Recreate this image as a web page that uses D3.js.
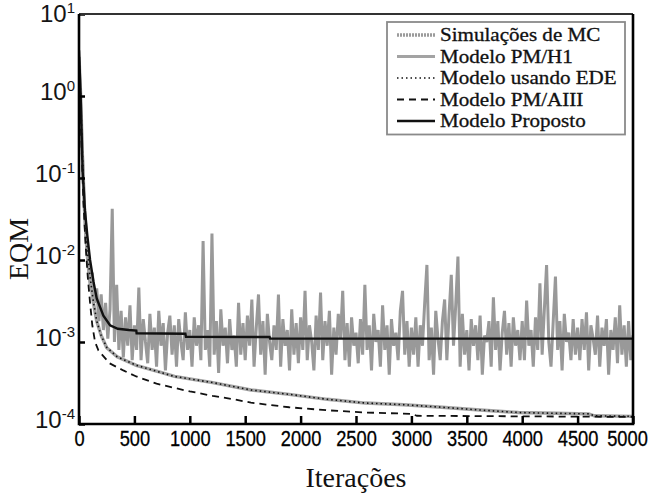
<!DOCTYPE html>
<html>
<head>
<meta charset="utf-8">
<script src="https://cdn.jsdelivr.net/npm/d3@7"></script>
<style>
  body { margin: 0; background: #fff; }
  svg { display: block; }
</style>
</head>
<body>
<svg id="chart" width="659" height="494"></svg>
<script>
'use strict'

// eixos
var xTicks = [0, 500, 1000, 1500, 2000, 2500, 3000, 3500, 4000, 4500, 5000];
var yTicks = [1e-4, 1e-3, 1e-2, 1e-1, 1, 10];
var xLabel = 'Iterações';
var yLabel = 'EQM';

var legendNames = ['Simulações de MC', 'Modelo PM/H1', 'Modelo usando EDE', 'Modelo PM/AIII', 'Modelo Proposto'];

// Simulações de MC: um ponto a cada 20 iterações, valores em unidades de 1e-4
var mcStep = 20;
var mcValues = [
    25000, 5000, 900, 200, 90, 50, 70, 30, 45, 18, 38, 14, 30, 11, 25, 420, 10, 50, 8, 24, 6.5, 20, 9, 28, 6,
    16, 8, 46, 6, 19, 10, 5.5, 22, 8, 15, 5, 24, 9, 17, 4.5, 13, 21, 7, 16, 5, 19, 10, 6, 23, 8,
    14, 5, 20, 9, 16, 6, 170, 8, 14, 5, 210, 7, 18, 4.2, 25, 9, 15, 5.5, 19, 8, 12, 5, 30, 7, 17,
    6, 21, 9, 33, 5, 15, 38, 7, 18, 4, 22, 10, 6, 16, 8, 38, 5, 19, 9, 14, 4.5, 25, 7, 17, 5.5,
    20, 8, 42, 6, 16, 10, 4.5, 21, 8, 40, 6, 18, 9, 24, 4, 15, 7, 22, 11, 42, 6, 17, 5, 20, 9,
    13, 5.5, 19, 7, 50, 8, 16, 4.5, 22, 10, 14, 5, 28, 8, 16, 4, 19, 9, 13, 6, 24, 42, 7, 18, 5,
    15, 7, 20, 5, 16, 9, 30, 87, 6, 15, 4, 24, 11, 6, 18, 33, 6, 22, 66, 9, 28, 110, 5, 22, 7,
    14, 4.5, 19, 9, 16, 6, 21, 4, 12, 10, 18, 5, 35, 8, 18, 4.5, 13, 24, 7, 17, 5, 20, 9, 14, 6,
    18, 6, 32, 9, 14, 5, 20, 8, 52, 7, 25, 87, 10, 5, 18, 63, 8, 18, 4.5, 22, 10, 13, 6, 19, 7,
    15, 6, 19, 8, 23, 4.5, 16, 11, 7, 21, 5, 15, 9, 19, 4, 14, 8, 20, 5.5, 28, 7, 16, 5, 18, 6,
    12
];

// Modelo PM/H1
var pmh1Iter = [0, 15, 30, 50, 75, 100, 130, 160, 200, 250, 345, 517, 700, 862, 1207, 1552, 1897, 2241, 2586, 2931, 3276, 3621, 3966, 4300, 4600, 4650, 5000];
var pmh1Eqm = [3.0, 1.0, 0.2, 0.04, 0.012, 0.006, 0.003, 0.0018, 0.0012, 0.00085, 0.00066, 0.00052, 0.00044, 0.00038, 0.00032, 0.00026, 0.00023, 0.0002, 0.00018, 0.000172, 0.00016, 0.000148, 0.000138, 0.000135, 0.000133, 0.000126, 0.000124];

// Modelo usando EDE
var edeIter = [0, 15, 30, 50, 75, 100, 130, 160, 200, 250, 345, 517, 700, 862, 1207, 1552, 1897, 2241, 2586, 2931, 3276, 3621, 3966, 4300, 4600, 4650, 5000];
var edeEqm = [3.0, 1.0, 0.21, 0.042, 0.013, 0.0062, 0.0031, 0.0018, 0.0012, 0.00086, 0.00066, 0.00052, 0.00044, 0.00038, 0.00032, 0.00026, 0.00023, 0.0002, 0.00018, 0.000172, 0.00016, 0.000148, 0.000138, 0.000135, 0.000133, 0.000126, 0.000124];

// Modelo PM/AIII
var aiiiIter = [0, 10, 25, 40, 60, 80, 100, 120, 145, 175, 276, 400, 517, 700, 862, 1000, 1207, 1400, 1552, 1897, 2241, 2586, 3000, 3050, 4000, 5000];
var aiiiEqm = [3.0, 1.0, 0.2, 0.05, 0.015, 0.006, 0.003, 0.0016, 0.001, 0.00079, 0.00055, 0.00045, 0.00038, 0.00031, 0.000275, 0.00025, 0.00022, 0.0002, 0.000182, 0.00016, 0.000147, 0.000138, 0.000133, 0.000126, 0.000124, 0.000122];

// Modelo Proposto
var propIter = [0, 15, 33, 54, 75, 100, 130, 160, 220, 280, 350, 450, 517, 520, 960, 965, 1720, 1725, 5000];
var propEqm = [3.6, 1.0, 0.12, 0.04, 0.02, 0.01, 0.0055, 0.0034, 0.0021, 0.0016, 0.00145, 0.0014, 0.00138, 0.00128, 0.00126, 0.00116, 0.00115, 0.0011, 0.0011];


var W = 659, H = 494;
var margin = {top: 14, right: 26, bottom: 70, left: 79};
var svg = d3.select('#chart');

var x = d3.scaleLinear().domain([0, 5000]).range([margin.left, W - margin.right]);
var y = d3.scaleLog().domain([1e-4, 10]).range([H - margin.bottom, margin.top]);

var line = d3.line()
    .x(function(d){ return x(d[0]); })
    .y(function(d){ return y(d[1]); });

function pairs(iters, vals){
    return iters.map(function(it, i){ return [it, vals[i]]; });
}

var mcPts = mcValues.map(function(v, i){ return [i * mcStep, v * 1e-4]; });

svg.append('rect').attr('width', W).attr('height', H).attr('fill', '#fff');

svg.append('clipPath').attr('id', 'plot-clip')
    .append('rect')
    .attr('x', x(0)).attr('y', y(10))
    .attr('width', x(5000) - x(0)).attr('height', y(1e-4) - y(10));

var plot = svg.append('g').attr('clip-path', 'url(#plot-clip)');

// curvas (de baixo para cima)
plot.append('path').datum(mcPts)
    .attr('d', line).attr('fill', 'none')
    .attr('stroke', '#999').attr('stroke-width', 3).attr('stroke-linejoin', 'bevel');

plot.append('path').datum(pairs(pmh1Iter, pmh1Eqm))
    .attr('d', line).attr('fill', 'none')
    .attr('stroke', '#a3a3a3').attr('stroke-width', 3.4);

plot.append('path').datum(pairs(edeIter, edeEqm))
    .attr('d', line).attr('fill', 'none')
    .attr('stroke', '#111').attr('stroke-width', 1.6).attr('stroke-dasharray', '1.5,3');

plot.append('path').datum(pairs(aiiiIter, aiiiEqm))
    .attr('d', line).attr('fill', 'none')
    .attr('stroke', '#111').attr('stroke-width', 1.8).attr('stroke-dasharray', '7,5');

plot.append('path').datum(pairs(propIter, propEqm))
    .attr('d', line).attr('fill', 'none')
    .attr('stroke', '#111').attr('stroke-width', 2.4);

// eixo x
var xAxis = d3.axisBottom(x).tickValues(xTicks).tickSizeInner(-8).tickSizeOuter(0).tickPadding(6)
    .tickFormat(d3.format('d'));
var gx = svg.append('g')
    .attr('transform', 'translate(0,' + y(1e-4) + ')')
    .call(xAxis);
gx.select('.domain').remove();
gx.selectAll('line').attr('stroke', '#000').attr('stroke-width', 2.5);
gx.selectAll('text')
    .attr('font-family', '"Liberation Sans", Arial, sans-serif')
    .attr('font-size', 22).attr('fill', '#000')
    .attr('stroke', '#000').attr('stroke-width', 0.3)
    .each(function(d){
        var t = d3.select(this);
        var w = this.getComputedTextLength() * 0.83;
        t.attr('textLength', w).attr('lengthAdjust', 'spacingAndGlyphs');
        // último rótulo recuado para caber na figura
        if (d === 5000) t.attr('text-anchor', 'end').attr('x', w / 2 - 6);
    });

// eixo y
var yAxis = d3.axisLeft(y).tickValues(yTicks).tickSizeInner(-6).tickSizeOuter(0).tickPadding(4)
    .tickFormat(function(){ return ''; });
var gy = svg.append('g')
    .attr('transform', 'translate(' + x(0) + ',0)')
    .call(yAxis);
gy.select('.domain').remove();
gy.selectAll('line').attr('stroke', '#000').attr('stroke-width', 2.5);
gy.selectAll('text').each(function(d){
    var t = d3.select(this)
        .attr('font-family', '"Liberation Sans", Arial, sans-serif')
        .attr('fill', '#151515')
        .attr('dy', d === 10 ? '0.7em' : '0.35em');
    t.append('tspan').attr('font-size', 24).text('10');
    t.append('tspan').attr('font-size', 15).attr('dy', '-0.6em').text(Math.round(Math.log10(d)));
});

// moldura: topo mais fino, demais lados grossos
var x0 = x(0), x1 = x(5000), y0 = y(1e-4), y1 = y(10);
svg.append('line')
    .attr('x1', x0).attr('x2', x1).attr('y1', y1).attr('y2', y1)
    .attr('stroke', '#333').attr('stroke-width', 1.8);
svg.append('path')
    .attr('d', 'M' + x0 + ',' + y1 + 'V' + y0 + 'H' + x1 + 'V' + y1)
    .attr('fill', 'none').attr('stroke', '#000').attr('stroke-width', 2.6);

// rótulos
svg.append('text')
    .attr('x', (x0 + x1) / 2).attr('y', 487)
    .attr('text-anchor', 'middle')
    .attr('font-family', '"Liberation Serif", "Times New Roman", serif')
    .attr('font-size', 28).attr('fill', '#111')
    .text(xLabel);

svg.append('text')
    .attr('transform', 'translate(28,' + ((y1 + y0) / 2 + 30) + ') rotate(-90)')
    .attr('text-anchor', 'middle')
    .attr('font-family', '"Liberation Serif", "Times New Roman", serif')
    .attr('font-size', 28).attr('fill', '#111')
    .text(yLabel);

// legenda
var lg = svg.append('g');
var lgX = 387, lgY = 22, rowH = 21.5;
lg.append('rect')
    .attr('x', lgX).attr('y', lgY).attr('width', 238).attr('height', rowH * legendNames.length + 5)
    .attr('fill', '#fff').attr('stroke', '#8a8a8a').attr('stroke-width', 1.8);

var styles = [
    {stroke: '#9b9b9b', width: 3.5, dash: '2,1'},
    {stroke: '#a3a3a3', width: 3.2, dash: null},
    {stroke: '#111', width: 1.6, dash: '1.5,3'},
    {stroke: '#111', width: 1.8, dash: '7,5'},
    {stroke: '#111', width: 2.4, dash: null}
];

legendNames.forEach(function(name, i){
    var cy = lgY + 13 + i * rowH;
    lg.append('line')
        .attr('x1', lgX + 10).attr('x2', lgX + 48)
        .attr('y1', cy).attr('y2', cy)
        .attr('stroke', styles[i].stroke).attr('stroke-width', styles[i].width)
        .attr('stroke-dasharray', styles[i].dash);
    var t = lg.append('text')
        .attr('x', lgX + 53).attr('y', cy).attr('dy', '0.35em')
        .attr('font-family', '"Liberation Serif", "Times New Roman", serif')
        .attr('font-size', 18).attr('fill', '#111')
        .attr('stroke', '#111').attr('stroke-width', 0.3)
        .text(name);
    var w = t.node().getComputedTextLength();
    t.attr('textLength', w * 1.17).attr('lengthAdjust', 'spacingAndGlyphs');
});
</script>
</body>
</html>
